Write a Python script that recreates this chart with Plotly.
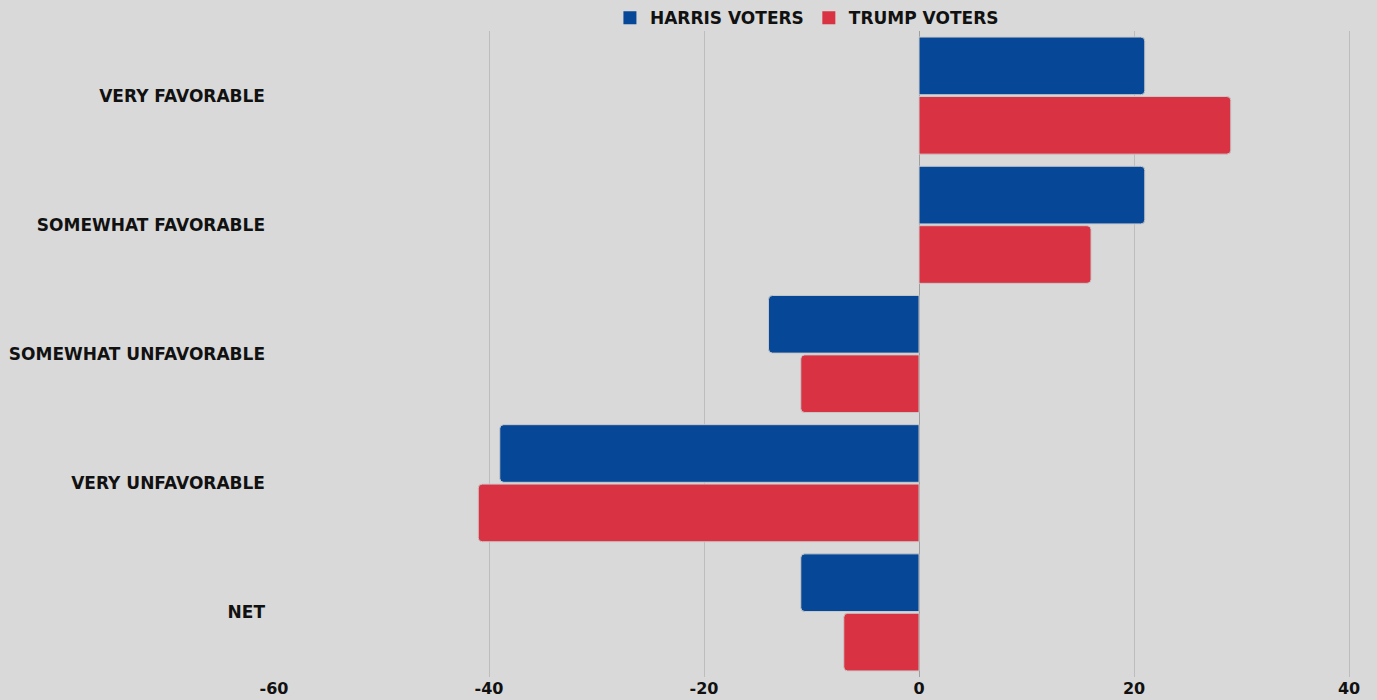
import plotly.graph_objects as go

categories = ["VERY FAVORABLE", "SOMEWHAT FAVORABLE", "SOMEWHAT UNFAVORABLE", "VERY UNFAVORABLE", "NET"]
harris = [21, 21, -14, -39, -11]
trump = [29, 16, -11, -41, -7]
tick_vals = [-60, -40, -20, 0, 20, 40]
tick_text = ["-60", "-40", "-20", "0", "20", "40"]
series_names = ["HARRIS VOTERS", "TRUMP VOTERS"]
series_colors = ["#074797", "#d93242"]

FONT = "DejaVu Sans"

fig = go.Figure()
for name, vals, col in zip(series_names, [harris, trump], series_colors):
    fig.add_trace(go.Bar(
        y=categories, x=vals, orientation="h", name=name, showlegend=False,
        marker=dict(color=col, line=dict(color="#c9c9c9", width=1), cornerradius=4),
    ))
for name, col in zip(series_names, series_colors):
    fig.add_trace(go.Scatter(
        x=[None], y=[None], mode="markers", name=name,
        marker=dict(symbol="square", size=13, color=col),
    ))

fig.update_layout(
    width=1377, height=700,
    paper_bgcolor="#d9d9d9", plot_bgcolor="#d9d9d9",
    margin=dict(l=274, r=0, t=31, b=23, autoexpand=False),
    barmode="group", bargap=0.08, bargroupgap=0.03,
    font=dict(family=FONT, color="#111111", size=16),
    legend=dict(
        orientation="h", x=0.586, xanchor="center", xref="container",
        y=0.974, yanchor="middle", yref="container",
        font=dict(family=FONT, size=17, weight="bold", color="#111111"),
        bgcolor="rgba(0,0,0,0)", itemwidth=30, tracegroupgap=0,
    ),
    xaxis=dict(
        range=[-60, 42.6], tickvals=tick_vals, ticktext=tick_text, showgrid=True,
        gridcolor="#bdbdbd", gridwidth=1, zeroline=True, zerolinecolor="#9e9e9e",
        zerolinewidth=1, showline=False, ticks="",
        tickfont=dict(family=FONT, size=16, weight="bold", color="#111111"),
        automargin=False,
    ),
    yaxis=dict(
        autorange="reversed", showgrid=False, ticks="", showline=False,
        tickfont=dict(family=FONT, size=17, weight="bold", color="#111111"),
        ticklabelstandoff=8, automargin=False,
    ),
)

fig.write_html("out.html", config={"displayModeBar": False},
               post_script="document.body.style.margin='0';")
